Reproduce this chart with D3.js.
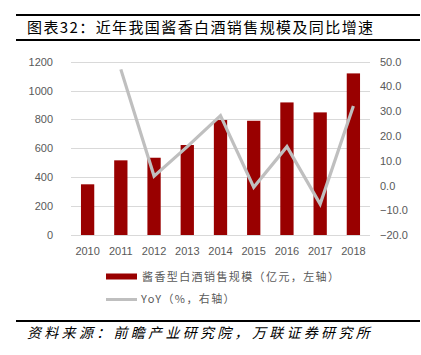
<!DOCTYPE html>
<html><head><meta charset="utf-8">
<script src="https://cdn.jsdelivr.net/npm/d3@7"></script>
<style>body{margin:0;background:#fff}svg{display:block}</style>
</head><body><svg id="c" width="421" height="355"></svg>
<script>
const years = ["2010","2011","2012","2013","2014","2015","2016","2017","2018"];
const sales = [351, 517, 535, 623, 796, 791, 918, 849, 1119];
const yoy = [null, 46.9, 3.8, 15.7, 28.2, -0.7, 15.7, -7.5, 32.1];
const leftTicks = [0,200,400,600,800,1000,1200];
const rightTicks = [-20,-10,0,10,20,30,40,50];
const title = "图表32：近年我国酱香白酒销售规模及同比增速";
const source = "资料来源：前瞻产业研究院，万联证券研究所";
const legendLabels = ["酱香型白酒销售规模（亿元，左轴）","YoY（%，右轴）"];

(function(){
const svg = d3.select("#c");
const cjk = "'Noto Sans CJK SC','Noto Sans',sans-serif";
const pL=71, pR=370, pT=61.7, pB=235;
const x = d3.scaleBand().domain(years).range([pL,pR]).paddingInner(0.6).paddingOuter(0.3);
const yL = d3.scaleLinear().domain([0,1200]).range([pB,pT]);
const yR = d3.scaleLinear().domain([-20,50]).range([pB,pT]);

svg.append("line").attr("x1",16).attr("x2",420).attr("y1",15).attr("y2",15).attr("stroke","#000").attr("stroke-width",2);
svg.append("line").attr("x1",16).attr("x2",420).attr("y1",40).attr("y2",40).attr("stroke","#000").attr("stroke-width",2);
svg.append("line").attr("x1",16).attr("x2",420).attr("y1",321).attr("y2",321).attr("stroke","#000").attr("stroke-width",2);
svg.append("text").attr("x",27).attr("y",33).attr("font-family",cjk).attr("font-size",15).attr("letter-spacing",1.4).attr("fill","#000").text(title);
svg.append("text").attr("x",27).attr("y",338).attr("font-family",cjk).attr("font-size",14).attr("font-style","italic").attr("letter-spacing",3.3).attr("fill","#000").text(source);

svg.append("g").selectAll("line").data(leftTicks).join("line")
 .attr("x1",pL).attr("x2",pR).attr("y1",d=>Math.round(yL(d))+0.5).attr("y2",d=>Math.round(yL(d))+0.5)
 .attr("stroke","#d9d9d9").attr("stroke-width",1);

const axL = svg.append("g").attr("transform",`translate(${pL-18},0)`)
 .call(d3.axisLeft(yL).tickValues(leftTicks).tickSize(0).tickPadding(0).tickFormat(d3.format("d")));
const axR = svg.append("g").attr("transform",`translate(${pR+10},0)`)
 .call(d3.axisRight(yR).tickValues(rightTicks).tickSize(0).tickPadding(0).tickFormat(d=>d3.format(".1f")(d)));
const axX = svg.append("g").attr("transform",`translate(0,${pB})`)
 .call(d3.axisBottom(x).tickSize(0).tickPadding(12));
[axL,axR,axX].forEach(a=>{a.select(".domain").remove();
 a.selectAll("text").attr("font-family","'Liberation Sans',Arial,sans-serif").attr("font-size",11).attr("fill","#595959");});

svg.append("g").selectAll("rect").data(years).join("rect")
 .attr("x",d=>x(d)).attr("width",x.bandwidth())
 .attr("y",(d,i)=>yL(sales[i])).attr("height",(d,i)=>pB-yL(sales[i]))
 .attr("fill","#990000");

const line = d3.line().defined(d=>d[1]!=null).x(d=>x(d[0])+x.bandwidth()/2).y(d=>yR(d[1]));
svg.append("path").datum(years.map((y,i)=>[y,yoy[i]])).attr("d",line)
 .attr("fill","none").attr("stroke","#bfbfbf").attr("stroke-width",3.2).attr("stroke-linejoin","miter");

svg.append("rect").attr("x",106).attr("y",273.5).attr("width",31).attr("height",6).attr("fill","#990000");
svg.append("line").attr("x1",106).attr("x2",137).attr("y1",299.5).attr("y2",299.5).attr("stroke","#bfbfbf").attr("stroke-width",3);
svg.append("text").attr("x",142).attr("y",281).attr("font-family",cjk).attr("font-size",11).attr("letter-spacing",1.4).attr("fill","#595959").text(legendLabels[0]);
svg.append("text").attr("x",141).attr("y",303).attr("font-family",cjk).attr("font-size",11).attr("letter-spacing",1.4).attr("fill","#595959").text(legendLabels[1]);
})();
</script></body></html>
